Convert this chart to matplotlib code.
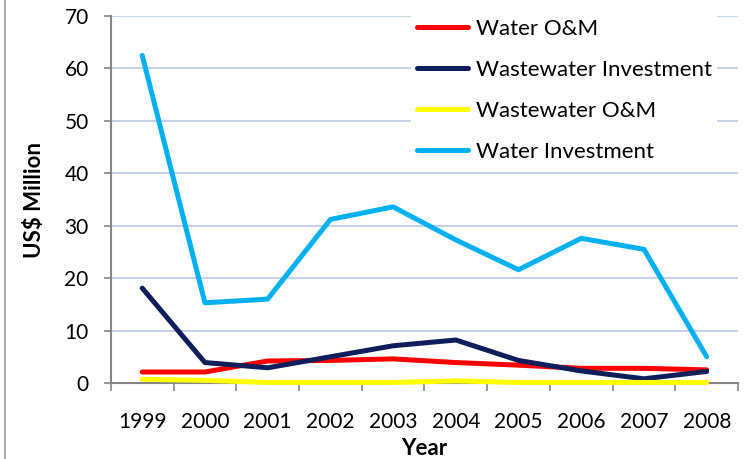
import numpy as np
import matplotlib.pyplot as plt
from matplotlib.lines import Line2D

years = ['1999', '2000', '2001', '2002', '2003', '2004', '2005', '2006', '2007', '2008']
water_om = [2.1, 2.1, 4.2, 4.3, 4.6, 3.9, 3.4, 2.8, 2.8, 2.5]
wastewater_inv = [18.1, 3.9, 2.9, 5.0, 7.1, 8.2, 4.3, 2.3, 0.8, 2.2]
wastewater_om = [0.7, 0.5, 0.1, 0.1, 0.1, 0.4, 0.1, 0.1, 0.1, 0.1]
water_inv = [62.5, 15.3, 16.0, 31.2, 33.6, 27.3, 21.6, 27.6, 25.5, 5.0]

plt.rcParams['font.family'] = ['Lato', 'DejaVu Sans']

fig = plt.figure(figsize=(7.44, 4.59), dpi=100)
ax = fig.add_axes([0.149, 0.1656, 0.843, 0.7994])
x = np.arange(len(years))

# lines drawn above the spines, like the original
lw = 3.6
ax.plot(x, water_om, color='#ff0000', lw=lw, label='Water O&M', solid_capstyle='round', zorder=3, clip_on=False)
ax.plot(x, wastewater_inv, color='#0d1e5a', lw=lw, label='Wastewater Investment', solid_capstyle='round', zorder=3, clip_on=False)
ax.plot(x, wastewater_om, color='#ffff00', lw=lw, label='Wastewater O&M', solid_capstyle='round', zorder=3, clip_on=False)
ax.plot(x, water_inv, color='#00b0f0', lw=lw, label='Water Investment', solid_capstyle='round', zorder=3, clip_on=False)

ax.set_xlim(-0.5, len(years) - 0.5)
ax.set_ylim(0, 70)
ax.set_yticks(np.arange(0, 71, 10))
ax.yaxis.grid(True, color='#b9c9e6', lw=1.2)
ax.set_axisbelow(True)

ax.set_xticks(x)
ax.set_xticklabels(years)
ax.set_xticks(np.arange(-0.5, len(years)), minor=True)
ax.tick_params(axis='x', which='major', length=0, pad=21, labelsize=15)
ax.tick_params(axis='x', which='minor', length=6, width=1.2, color='#868686')
ax.tick_params(axis='y', length=5, width=1.2, color='#868686', labelsize=15, pad=11)

for s in ['top', 'right']:
    ax.spines[s].set_visible(False)
for s in ['left', 'bottom']:
    ax.spines[s].set_color('#868686')
    ax.spines[s].set_linewidth(1.5)

ax.set_ylabel('US$ Million', fontsize=16, fontweight='bold', labelpad=14)
ax.set_xlabel('Year', fontsize=16, fontweight='bold', labelpad=4)

leg = ax.legend(loc='upper left', bbox_to_anchor=(0.461, 1.038), fontsize=16, frameon=True,
                facecolor='white', edgecolor='none', framealpha=1, fancybox=False,
                handlelength=2.3, handletextpad=0.35, labelspacing=0.95, borderpad=0.25)
leg.set_zorder(5)

fig.add_artist(Line2D([0.007, 0.007], [0, 1], color='#9a9a9a', lw=1.2))

fig.savefig('out.png', dpi=100)
